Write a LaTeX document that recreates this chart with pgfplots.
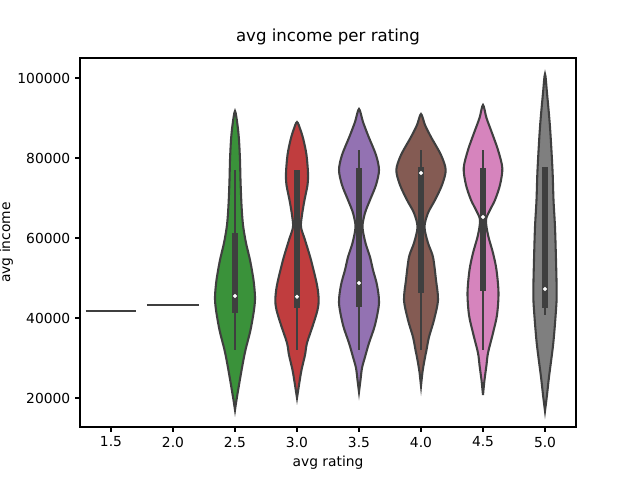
\documentclass[border=0pt]{standalone}
\usepackage{pgfplots}
\pgfplotsset{compat=1.18}
\usepackage{pgfplotstable}
\usepackage{fontspec}
\setmainfont{DejaVu Sans}
\definecolor{vgreen}{HTML}{3A923A}
\definecolor{vred}{HTML}{C03D3E}
\definecolor{vpurple}{HTML}{9372B2}
\definecolor{vbrown}{HTML}{845B53}
\definecolor{vpink}{HTML}{D684BD}
\definecolor{vgrey}{HTML}{7F7F7F}
\definecolor{dk}{HTML}{3F3F3F}

% violin outlines: y value, signed half-width in pixels (62 px = 1 category)
\pgfplotstableread{
y w
17000 0
19500 1.5
23250 4
28250 7.5
32000 10.5
37000 15.5
42000 19
45250 20
49500 18.5
54500 15
58750 11
63250 8
68250 6.5
74500 5.5
79500 5
84500 4
88250 2.5
91750 0
88250 -2.5
84500 -4
79500 -5
74500 -5.5
68250 -6.5
63250 -8
58750 -11
54500 -15
49500 -18.5
45250 -20
42000 -19
37000 -15.5
32000 -10.5
28250 -7.5
23250 -4
19500 -1.5
}\tabA
\pgfplotstableread{
y w
20000 0
23250 2
27000 4.5
30750 8
33750 10
38250 16
42000 20.5
44500 21.7
48250 20
54500 14
59500 8
62750 4
65750 5
69500 7.5
73250 10.5
76250 11
80750 9.5
84500 6.5
87000 3.5
89000 0
87000 -3.5
84500 -6.5
80750 -9.5
76250 -11
73250 -10.5
69500 -7.5
65750 -5
62750 -4
59500 -8
54500 -14
48250 -20
44500 -21.7
42000 -20.5
38250 -16
33750 -10
30750 -8
27000 -4.5
23250 -2
}\tabB
\pgfplotstableread{
y w
21500 0
24500 1.5
27500 3
30250 6
33750 10
38250 16
43750 20
48250 18
52000 14
55250 11
58750 6.5
62750 3.5
66250 6
69500 11
73250 17
77000 20
80750 17
85250 9.7
89000 4
92250 0
89000 -4
85250 -9.7
80750 -17
77000 -20
73250 -17
69500 -11
66250 -6
62750 -3.5
58750 -6.5
55250 -11
52000 -14
48250 -18
43750 -20
38250 -16
33750 -10
30250 -6
27500 -3
24500 -1.5
}\tabC
\pgfplotstableread{
y w
23000 0
26500 1.5
29500 3.5
32000 5.5
35250 8
39500 13
44500 17
49500 15
55250 12
58750 7
62750 3.5
66250 7
69500 14
73250 21
77000 24.7
80750 20
85250 10
88250 4
91000 0
88250 -4
85250 -10
80750 -20
77000 -24.7
73250 -21
69500 -14
66250 -7
62750 -3.5
58750 -7
55250 -12
49500 -15
44500 -17
39500 -13
35250 -8
32000 -5.5
29500 -3.5
26500 -1.5
}\tabD
\pgfplotstableread{
y w
20750 0
24500 1.5
28250 3.5
31250 5
36250 10
40750 14
46250 15.5
52000 13.5
56250 10
60750 5
64500 3
67000 7
69500 12
73250 17
77500 19.3
82000 15
86250 9
90000 3.5
93250 0
90000 -3.5
86250 -9
82000 -15
77500 -19.3
73250 -17
69500 -12
67000 -7
64500 -3
60750 -5
56250 -10
52000 -13.5
46250 -15.5
40750 -14
36250 -10
31250 -5
28250 -3.5
24500 -1.5
}\tabE
\pgfplotstableread{
y w
16750 0
20750 2
25250 4
33750 8.3
42000 11
46250 11.7
54500 11
62750 10
69500 8.5
77000 7.5
87750 5
96250 2
101000 0
96250 -2
87750 -5
77000 -7.5
69500 -8.5
62750 -10
54500 -11
46250 -11.7
42000 -11
33750 -8.3
25250 -4
20750 -2
}\tabF

\newcommand{\violin}[3]{%
  \addplot[smooth, fill=#3, draw=dk, line width=1.5pt] table[x expr=#1+\thisrow{w}/62, y=y]{#2} -- cycle;
}
\newcommand{\boxel}[6]{% pos, wlo, whi, qlo, qhi, median
  \addplot[dk, line width=1.5pt] coordinates {(#1,#2) (#1,#3)};
  \addplot[dk, line width=4.5pt] coordinates {(#1,#4) (#1,#5)};
  \addplot[only marks, mark=*, mark size=1.2pt, mark options={fill=white, draw=white}] coordinates {(#1,#6)};
}

\begin{document}
\begin{tikzpicture}
\useasboundingbox (-0.8in,-0.53in) rectangle (5.6in,4.27in);
\begin{axis}[
  at={(0,0)}, anchor=south west,
  scale only axis, width=4.96in, height=3.69in,
  xmin=-0.5, xmax=7.5, ymin=12750, ymax=105000,
  xtick={0,1,2,3,4,5,6,7},
  xticklabels={1.5,2.0,2.5,3.0,3.5,4.0,4.5,5.0},
  ytick={20000,40000,60000,80000,100000},
  yticklabels={20000,40000,60000,80000,100000},
  scaled y ticks=false,
  tick pos=left, tick align=outside,
  major tick length=3.5pt,
  every tick/.style={black, line width=0.8pt},
  axis line style={line width=0.8pt},
  tick label style={font=\fontsize{10}{12}\selectfont},
  label style={font=\fontsize{10}{12}\selectfont},
  title style={font=\fontsize{12}{14}\selectfont, at={(axis description cs:0.5,1.0225)}, anchor=base},
  xlabel style={at={(axis description cs:0.5,-0.1084)}, anchor=base},
  ylabel style={at={(axis description cs:-0.141,0.5)}, anchor=base},
  title={avg income per rating},
  xlabel={avg rating}, ylabel={avg income},
]
\violin{2}{\tabA}{vgreen}
\violin{3}{\tabB}{vred}
\violin{4}{\tabC}{vpurple}
\violin{5}{\tabD}{vbrown}
\violin{6}{\tabE}{vpink}
\violin{7}{\tabF}{vgrey}
\addplot[dk, line width=1.5pt] coordinates {(-0.41,41750) (0.41,41750)};
\addplot[dk, line width=1.5pt] coordinates {(0.58,43330) (1.42,43330)};
\boxel{2}{32000}{77000}{41250}{61250}{45500}
\boxel{3}{32000}{77000}{42500}{77000}{45300}
\boxel{4}{32000}{82000}{42750}{77500}{48750}
\boxel{5}{32000}{82000}{46250}{77750}{76250}
\boxel{6}{32000}{82000}{46750}{77500}{65250}
\boxel{7}{40750}{77750}{42500}{77750}{47250}
\end{axis}
\end{tikzpicture}
\end{document}
